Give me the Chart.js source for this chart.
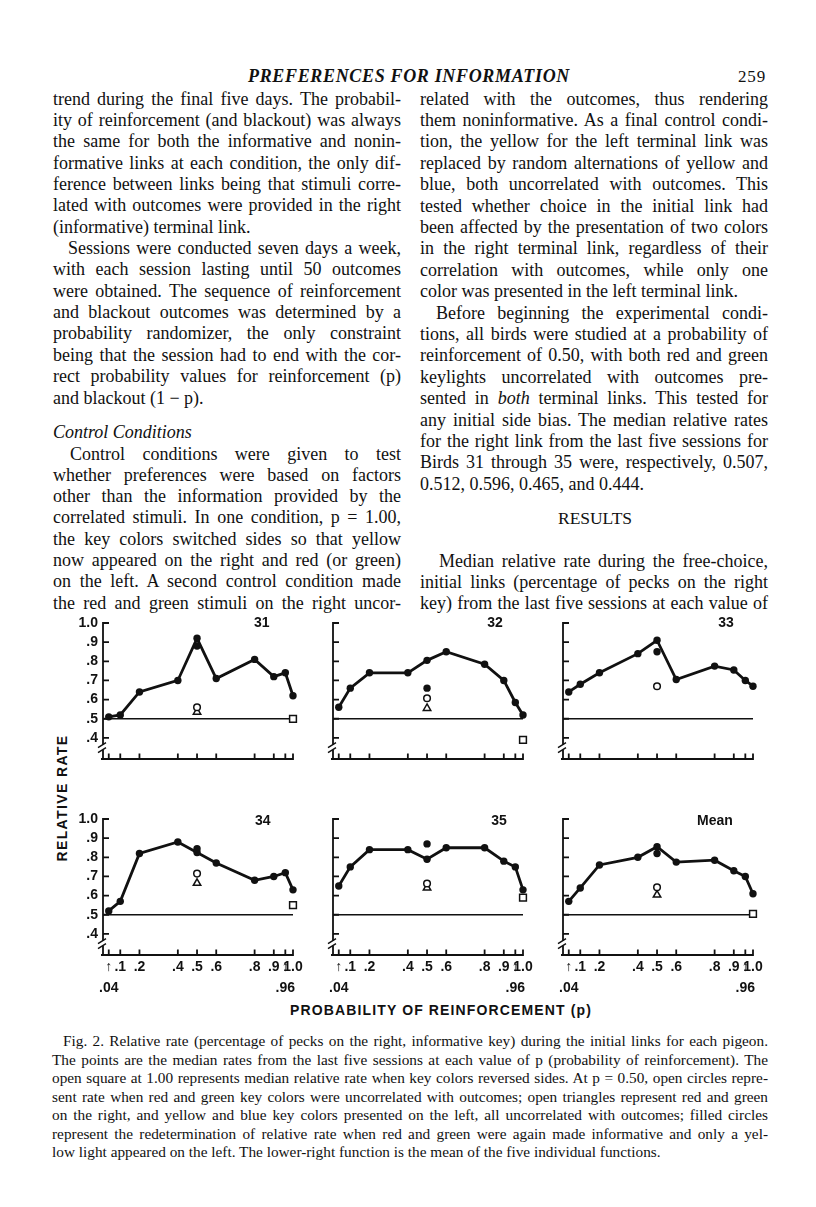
<!DOCTYPE html>
<html><head><meta charset="utf-8">
<script src="https://cdn.jsdelivr.net/npm/chart.js@4.4.1/dist/chart.umd.min.js"></script>
<style>
html,body{margin:0;padding:0;background:#fff}
body{position:relative;width:816px;height:1207px;overflow:hidden;color:#111;font-family:"Liberation Serif","Times New Roman",serif}
.ln{position:absolute;white-space:nowrap;font-size:18px;line-height:21px}
.cap{font-size:15.3px;line-height:18px}
.hdr{font-size:18px;line-height:21px;font-weight:bold;font-style:italic}
.pg{font-size:17px}
.res{font-size:17.5px}
.sans{font-family:"Liberation Sans",Arial,sans-serif;font-size:14px;line-height:18px;font-weight:bold}
canvas{position:absolute}
</style></head><body>
<script>
// ---------------- DATA ----------------
const probabilities = [0.04, 0.1, 0.2, 0.4, 0.5, 0.6, 0.8, 0.9, 0.96, 1.0];
const bird31   = [0.51, 0.52, 0.64, 0.70, 0.92, 0.71, 0.81, 0.72, 0.74, 0.62];
const bird32   = [0.56, 0.66, 0.74, 0.74, 0.805, 0.85, 0.785, 0.70, 0.585, 0.52];
const bird33   = [0.64, 0.68, 0.74, 0.84, 0.91, 0.705, 0.775, 0.755, 0.70, 0.67];
const bird34   = [0.52, 0.57, 0.82, 0.88, 0.825, 0.77, 0.68, 0.70, 0.72, 0.63];
const bird35   = [0.65, 0.75, 0.84, 0.84, 0.79, 0.85, 0.85, 0.78, 0.75, 0.63];
const birdMean = [0.57, 0.64, 0.76, 0.80, 0.855, 0.775, 0.785, 0.73, 0.70, 0.61];
const panelNames = ['31', '32', '33', '34', '35', 'Mean'];
const controlP = 0.5;
const reversedP = 1.0;
const redeterminedAt50 = [0.88, 0.66, 0.85, 0.845, 0.87, 0.82];   // filled circles
const uncorrelatedAt50 = [0.56, 0.607, 0.67, 0.715, 0.663, 0.644]; // open circles
const yellowBlueAt50   = [0.535, 0.555, null, 0.665, 0.64, 0.604]; // open triangles
const reversedAt100    = [0.50, 0.39, null, 0.55, 0.59, 0.505];     // open squares
const indifferenceX = [0.01, 1.0];
const indifferenceY = [0.5, 0.5];
const xTickValues = [0.04, 0.1, 0.2, 0.4, 0.5, 0.6, 0.8, 0.9, 0.96, 1.0];
const xTickLabels = [['\u2191', '.04'], '.1', '.2', '.4', '.5', '.6', '.8', '.9', ['\u2191', '.96'], '1.0'];
const yTickValues = [0.4, 0.5, 0.6, 0.7, 0.8, 0.9, 1.0];
const yTickLabels = ['.4', '.5', '.6', '.7', '.8', '.9', '1.0'];
const rateSeries = [bird31, bird32, bird33, bird34, bird35, birdMean];

// ---------------- TEXT ----------------
const leftCol = [
 ['trend during the final five days. The probabil-','j'],
 ['ity of reinforcement (and blackout) was always','j'],
 ['the same for both the informative and nonin-','j'],
 ['formative links at each condition, the only dif-','j'],
 ['ference between links being that stimuli corre-','j'],
 ['lated with outcomes were provided in the right','j'],
 ['(informative) terminal link.','l'],
 ['Sessions were conducted seven days a week,','ji'],
 ['with each session lasting until 50 outcomes','j'],
 ['were obtained. The sequence of reinforcement','j'],
 ['and blackout outcomes was determined by a','j'],
 ['probability randomizer, the only constraint','j'],
 ['being that the session had to end with the cor-','j'],
 ['rect probability values for reinforcement (p)','j'],
 ['and blackout (1 \u2212 p).','l']
];
const leftCol2 = [
 ['Control conditions were given to test','ji'],
 ['whether preferences were based on factors','j'],
 ['other than the information provided by the','j'],
 ['correlated stimuli. In one condition, p = 1.00,','j'],
 ['the key colors switched sides so that yellow','j'],
 ['now appeared on the right and red (or green)','j'],
 ['on the left. A second control condition made','j'],
 ['the red and green stimuli on the right uncor-','j']
];
const rightCol = [
 ['related with the outcomes, thus rendering','j'],
 ['them noninformative. As a final control condi-','j'],
 ['tion, the yellow for the left terminal link was','j'],
 ['replaced by random alternations of yellow and','j'],
 ['blue, both uncorrelated with outcomes. This','j'],
 ['tested whether choice in the initial link had','j'],
 ['been affected by the presentation of two colors','j'],
 ['in the right terminal link, regardless of their','j'],
 ['correlation with outcomes, while only one','j'],
 ['color was presented in the left terminal link.','l'],
 ['Before beginning the experimental condi-','ji'],
 ['tions, all birds were studied at a probability of','j'],
 ['reinforcement of 0.50, with both red and green','j'],
 ['keylights uncorrelated with outcomes pre-','j'],
 ['sented in <i>both</i> terminal links. This tested for','j'],
 ['any initial side bias. The median relative rates','j'],
 ['for the right link from the last five sessions for','j'],
 ['Birds 31 through 35 were, respectively, 0.507,','j'],
 ['0.512, 0.596, 0.465, and 0.444.','l']
];
const rightCol2 = [
 ['Median relative rate during the free-choice,','ji'],
 ['initial links (percentage of pecks on the right','j'],
 ['key) from the last five sessions at each value of','j']
];
const caption = [
 ['Fig. 2. Relative rate (percentage of pecks on the right, informative key) during the initial links for each pigeon.','ji'],
 ['The points are the median rates from the last five sessions at each value of p (probability of reinforcement). The','j'],
 ['open square at 1.00 represents median relative rate when key colors reversed sides. At p = 0.50, open circles repre-','j'],
 ['sent rate when red and green key colors were uncorrelated with outcomes; open triangles represent red and green','j'],
 ['on the right, and yellow and blue key colors presented on the left, all uncorrelated with outcomes; filled circles','j'],
 ['represent the redetermination of relative rate when red and green were again made informative and only a yel-','j'],
 ['low light appeared on the left. The lower-right function is the mean of the five individual functions.','l']
];

function put(html, o) {
  const d = document.createElement('div');
  d.className = 'ln ' + (o.cls || '');
  d.innerHTML = '<span>' + html + '</span>';
  document.body.appendChild(d);
  const s = d.firstChild;
  const nat = s.getBoundingClientRect().width;
  if (o.mode === 'j') {
    const n = (s.textContent.match(/ /g) || []).length;
    if (n) d.style.wordSpacing = ((o.w - nat) / n) + 'px';
  } else if (o.mode === 'ls') {
    const n = s.textContent.length;
    d.style.letterSpacing = ((o.w - nat) / n) + 'px';
  }
  let x = o.x;
  if (o.cx !== undefined) x = o.cx - s.getBoundingClientRect().width / 2;
  d.style.left = x + 'px';
  d.style.top = (o.yc - o.off) + 'px';
  return d;
}
function column(lines, x, y0, step, w, indent, cls, off) {
  lines.forEach((ln, k) => {
    const ind = ln[1] === 'ji' ? indent : 0;
    put(ln[0], {x: x + ind, yc: y0 + k * step, w: w - ind, mode: ln[1] === 'l' ? null : 'j', cls: cls, off: off});
  });
}
// header
put('PREFERENCES FOR INFORMATION', {x: 248, yc: 77, w: 322, mode: 'ls', cls: 'hdr', off: 11});
put('259', {x: 738, yc: 77, w: 28, mode: 'ls', cls: 'pg', off: 11});
column(leftCol, 53, 101, 21.36, 348, 15, '', 12.5);
put('<i>Control Conditions</i>', {x: 53, yc: 434, off: 12.5});
column(leftCol2, 53, 456, 21.3, 348, 17, '', 12.5);
column(rightCol, 420, 101, 21.4, 348, 16, '', 12.5);
put('RESULTS', {x: 558, yc: 520, w: 74, mode: 'ls', cls: 'res', off: 12});
column(rightCol2, 420, 563, 21.2, 348, 19, '', 12.5);
column(caption, 52, 1043, 18.5, 716, 11, 'cap', 10.8);
// axis titles
put('PROBABILITY OF REINFORCEMENT (p)', {x: 290, yc: 1010, w: 302, mode: 'ls', cls: 'sans', off: 9});
(function () {
  const d = put('RELATIVE RATE', {x: 0, yc: 0, w: 127, mode: 'ls', cls: 'sans', off: 0});
  d.style.left = '62px'; d.style.top = '798px';
  d.style.transform = 'translate(-50%,-50%) rotate(-90deg)';
})();

// ---------------- CHARTS ----------------
const COL_AXIS = [103, 333, 563];
const ROW_TOP = [623, 819];
const LABEL_DX = [158.7, 162, 163, 159.7, 166, 152];
const INK = '#111';
const SANS = '"Liberation Sans", Arial, sans-serif';

const axesPlugin = {
  id: 'panelAxes',
  beforeDatasetsDraw(chart, args, opts) {
    const {ctx} = chart, x = chart.scales.x, y = chart.scales.y;
    const ax = x.left, bottom = y.bottom;
    const yTop = y.getPixelForValue(1.0), yb = y.getPixelForValue(0.365);
    ctx.save();
    ctx.strokeStyle = INK; ctx.lineWidth = 1.8; ctx.lineCap = 'butt';
    ctx.beginPath();
    ctx.moveTo(ax, yTop - 0.9); ctx.lineTo(ax, yb);
    ctx.moveTo(ax, yb + 5); ctx.lineTo(ax, bottom);
    yTickValues.forEach(v => { const py = y.getPixelForValue(v); ctx.moveTo(ax, py); ctx.lineTo(ax + 6, py); });
    ctx.moveTo(ax - 2, bottom); ctx.lineTo(x.getPixelForValue(1.0) + 0.9, bottom);
    xTickValues.forEach(v => { const px = x.getPixelForValue(v); ctx.moveTo(px, bottom); ctx.lineTo(px, bottom - 5.5); });
    ctx.stroke();
    ctx.lineWidth = 1.5;
    ctx.beginPath();
    ctx.moveTo(ax - 5, yb + 3); ctx.lineTo(ax + 3, yb - 2);
    ctx.moveTo(ax - 5, yb + 8); ctx.lineTo(ax + 3, yb + 3);
    ctx.stroke();
    ctx.restore();
  },
  afterDraw(chart, args, opts) {
    const {ctx} = chart, x = chart.scales.x, y = chart.scales.y;
    ctx.save();
    ctx.fillStyle = INK;
    ctx.font = 'bold 14px ' + SANS;
    ctx.textAlign = 'center'; ctx.textBaseline = 'middle';
    ctx.fillText(opts.name, x.left + opts.dx, y.getPixelForValue(1.0) + opts.dy);
    ctx.restore();
  }
};

function pts(xs, ys) { return xs.map((v, k) => ({x: v, y: ys[k]})).filter(p => p.y !== null); }

function buildPanel(i) {
  const col = i % 3, row = Math.floor(i / 3);
  const L = 45, T = 22, R = 25, AW = 190, AH = 136, B = row ? 52 : 14;
  const cv = document.createElement('canvas');
  cv.width = L + AW + R; cv.height = T + AH + B;
  cv.style.left = (COL_AXIS[col] - L) + 'px';
  cv.style.top = (ROW_TOP[row] - T) + 'px';
  document.body.appendChild(cv);
  const marker = {showLine: false, clip: false, pointBorderColor: INK};
  const ds = [
    {data: pts(indifferenceX, indifferenceY), showLine: true, borderColor: INK, borderWidth: 1.7, pointRadius: 0, order: 10, clip: false},
    {data: pts(probabilities, rateSeries[i]), showLine: true, borderColor: INK, borderWidth: 2.8, tension: 0,
      pointRadius: 3.7, pointBackgroundColor: INK, pointBorderColor: INK, pointBorderWidth: 0, order: 5, clip: false},
    Object.assign({data: pts([controlP], [redeterminedAt50[i]]), pointRadius: 3.7, pointBackgroundColor: INK, pointBorderWidth: 0, order: 4}, marker),
    Object.assign({data: pts([controlP], [uncorrelatedAt50[i]]), pointStyle: 'circle', pointRadius: 3.3, pointBackgroundColor: '#fff', pointBorderWidth: 1.5, order: 1}, marker),
    Object.assign({data: pts([controlP], [yellowBlueAt50[i]]), pointStyle: 'triangle', pointRadius: 4.3, pointBackgroundColor: '#fff', pointBorderWidth: 1.5, order: 2}, marker),
    Object.assign({data: pts([reversedP], [reversedAt100[i]]), pointStyle: 'rect', pointRadius: 4.8, pointBackgroundColor: '#fff', pointBorderWidth: 1.5, order: 0}, marker)
  ];
  const tickFont = {family: SANS, size: 14, weight: 'bold', lineHeight: 1.5};
  new Chart(cv, {
    type: 'scatter',
    data: {datasets: ds},
    options: {
      responsive: false, animation: false, events: [],
      layout: {padding: {left: 0, top: T, right: R, bottom: 0}, autoPadding: false},
      plugins: {legend: {display: false}, tooltip: {enabled: false}, title: {display: false},
        panelAxes: {name: panelNames[i], dx: LABEL_DX[i], dy: row ? 2 : 0.5}},
      scales: {
        x: {type: 'linear', min: 0.01, max: 1.0,
          afterBuildTicks: s => { s.ticks = xTickValues.map(v => ({value: v})); },
          ticks: {display: row === 1, autoSkip: false, maxRotation: 0, minRotation: 0, padding: 1.5, color: INK, font: tickFont,
            callback: (v, k) => xTickLabels[k]},
          grid: {display: false, drawTicks: false}, border: {display: false},
          afterFit: s => { s.height = B; s.paddingLeft = 0; s.paddingRight = 0; }},
        y: {type: 'linear', min: 0.29, max: 1.0,
          afterBuildTicks: s => { s.ticks = yTickValues.map(v => ({value: v})); },
          ticks: {display: col === 0, padding: 5, color: INK, font: {family: SANS, size: 14, weight: 'bold'},
            callback: (v, k) => yTickLabels[k]},
          grid: {display: false, drawTicks: false}, border: {display: false},
          afterFit: s => { s.width = L; s.paddingTop = 0; s.paddingBottom = 0; }}
      }
    },
    plugins: [axesPlugin]
  });
}
for (let i = 0; i < 6; i++) buildPanel(i);
</script>
</body></html>
